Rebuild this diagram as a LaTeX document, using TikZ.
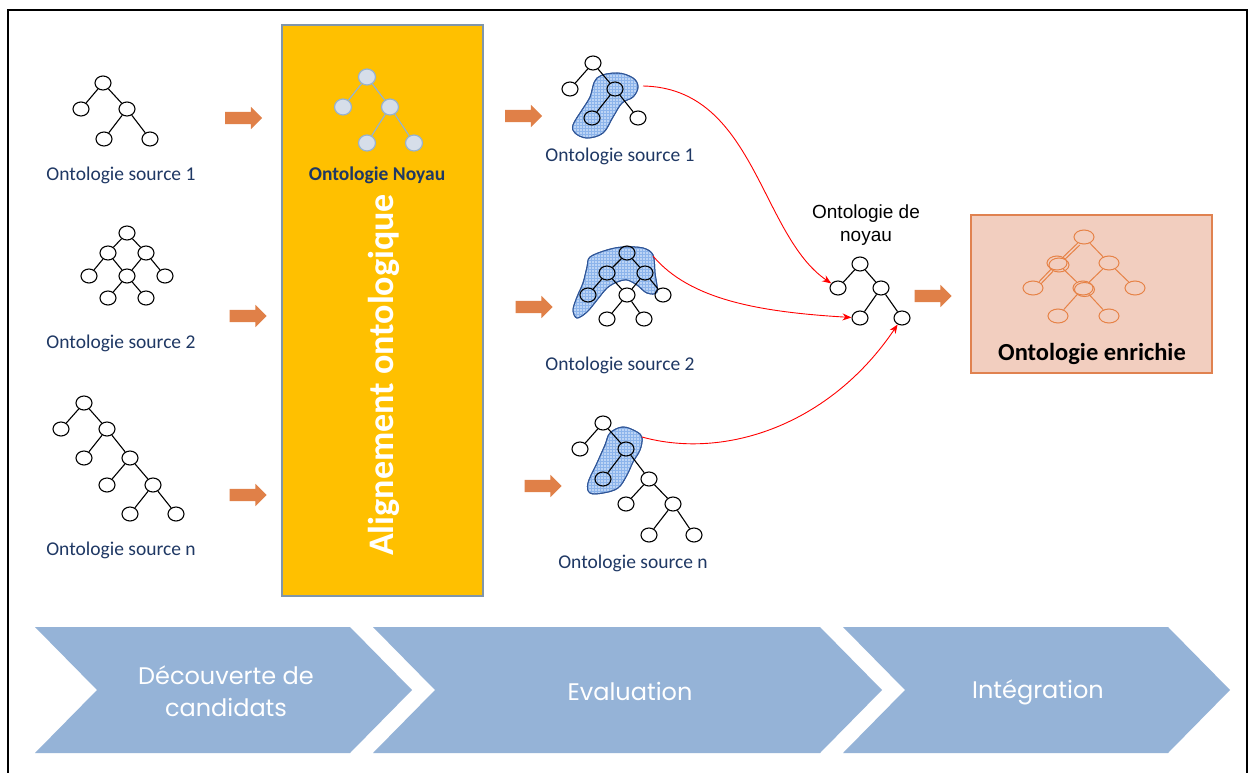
\documentclass[tikz,border=0pt]{standalone}
\usepackage{fontspec}
\setmainfont{Carlito}
\newfontfamily\arialfont{Liberation Sans}
\newfontfamily\stagefont{Poppins}
\usetikzlibrary{shapes.geometric,shapes.arrows,patterns,arrows.meta}

\definecolor{navy}{RGB}{31,56,100}
\definecolor{arrorange}{RGB}{224,128,72}
\definecolor{alignyellow}{RGB}{255,192,0}
\definecolor{alignframe}{RGB}{128,150,170}
\definecolor{kernfill}{RGB}{214,222,233}
\definecolor{kernline}{RGB}{150,178,208}
\definecolor{blobfill}{RGB}{188,212,245}
\definecolor{blobgrid}{RGB}{140,180,235}
\definecolor{blobline}{RGB}{47,85,151}
\definecolor{richfill}{RGB}{242,206,191}
\definecolor{richline}{RGB}{224,130,80}
\definecolor{richtree}{RGB}{230,130,70}
\definecolor{stageblue}{RGB}{149,179,215}

\tikzset{
  onode/.style={ellipse, draw=black, line width=1.1pt, minimum width=16pt, minimum height=14pt, inner sep=0pt},
  tedge/.style={line width=1.1pt},
  kernnode/.style={ellipse, draw=kernline, fill=kernfill, line width=1.2pt, minimum width=17pt, minimum height=16pt, inner sep=0pt},
  kernedge/.style={draw=kernline, line width=1.2pt},
  richnode/.style={ellipse, draw=richtree, line width=1pt, minimum width=20pt, minimum height=14pt, inner sep=0pt},
  richedge/.style={draw=richtree, line width=1pt},
  barrow/.style={single arrow, fill=arrorange, draw=none, minimum height=37pt, minimum width=0pt,
                 single arrow head extend=5pt, single arrow head indent=0pt, inner xsep=0pt, inner ysep=6pt},
  srclabel/.style={text=navy, font=\fontsize{19.5}{22}\selectfont, inner sep=0pt},
  blob/.style={draw=blobline, line width=1pt, fill=blobfill},
  blobgridstyle/.style={pattern=grid, pattern color=blobgrid},
  link/.style={draw=red, line width=0.9pt, -{Stealth[length=9pt,width=7pt]}},
  stage/.style={fill=stageblue, draw=none},
  stagetext/.style={text=white, font=\stagefont\fontsize{24}{32}\selectfont, align=center, inner sep=0pt},
}

\begin{document}
\begin{tikzpicture}[x=1pt,y=-1pt]
\useasboundingbox (0,0) rectangle (1248,773);
\fill[white] (0,0) rectangle (1248,773);
\draw[line width=1.5pt] (8,10) rectangle (1247,800);

% ---------- source ontologies ----------
\node[onode] (s1a) at (103,83) {};
\node[onode] (s1b) at (81,109) {};
\node[onode] (s1c) at (127,109) {};
\node[onode] (s1d) at (104,139) {};
\node[onode] (s1e) at (150,139) {};
\draw[tedge] (s1a)--(s1b) (s1a)--(s1c) (s1c)--(s1d) (s1c)--(s1e);
\node[srclabel] (l1) at (121,175) {Ontologie source 1};

\node[onode] (s2a) at (127,233) {};
\node[onode] (s2b) at (108,253) {};
\node[onode] (s2c) at (146,253) {};
\node[onode] (s2d) at (89,276) {};
\node[onode] (s2e) at (127,276) {};
\node[onode] (s2f) at (165,276) {};
\node[onode] (s2g) at (108,298) {};
\node[onode] (s2h) at (146,298) {};
\draw[tedge] (s2a)--(s2b) (s2a)--(s2c) (s2b)--(s2d) (s2b)--(s2e) (s2c)--(s2e) (s2c)--(s2f) (s2e)--(s2g) (s2e)--(s2h);
\node[srclabel] (l2) at (121,343) {Ontologie source 2};

\node[onode] (s3a) at (84,403) {};
\node[onode] (s3b) at (61,429) {};
\node[onode] (s3c) at (107,429) {};
\node[onode] (s3d) at (84,458) {};
\node[onode] (s3e) at (130,458) {};
\node[onode] (s3f) at (107,485) {};
\node[onode] (s3g) at (153,485) {};
\node[onode] (s3h) at (130,514) {};
\node[onode] (s3i) at (176,514) {};
\draw[tedge] (s3a)--(s3b) (s3a)--(s3c) (s3c)--(s3d) (s3c)--(s3e) (s3e)--(s3f) (s3e)--(s3g) (s3g)--(s3h) (s3g)--(s3i);
\node[srclabel] (l3) at (121,550) {Ontologie source n};

\node[barrow] (a1) at (240.5,118) {};
\node[barrow] (a2) at (245,316) {};
\node[barrow] (a3) at (245,495) {};

% ---------- alignment block ----------
\node[draw=alignframe, line width=2pt, fill=alignyellow, minimum width=201pt, minimum height=571pt, inner sep=0pt] (align) at (382.5,310.5) {};
\node[kernnode] (ya) at (367,77) {};
\node[kernnode] (yb) at (343,107) {};
\node[kernnode] (yc) at (390,107) {};
\node[kernnode] (yd) at (367,143) {};
\node[kernnode] (ye) at (414,143) {};
\draw[kernedge] (ya)--(yb) (ya)--(yc) (yc)--(yd) (yc)--(ye);
\node[text=navy, font=\bfseries\fontsize{19.5}{22}\selectfont, inner sep=0pt] (kl) at (377,175) {Ontologie Noyau};
\node[rotate=90, text=white, font=\bfseries\fontsize{36}{40}\selectfont, inner sep=0pt] (alt) at (384,375) {Alignement ontologique};

% ---------- evaluated source ontologies ----------
\fill[blob] plot[smooth cycle, tension=0.6] coordinates {(597,78) (617,73) (633,78) (638,87) (633,97) (622,103) (613,117) (603,133) (587,138) (575,133) (573,125) (582,110) (590,97)};
\fill[blobgridstyle] plot[smooth cycle, tension=0.6] coordinates {(597,78) (617,73) (633,78) (638,87) (633,97) (622,103) (613,117) (603,133) (587,138) (575,133) (573,125) (582,110) (590,97)};
\draw[blobline, line width=1pt] plot[smooth cycle, tension=0.6] coordinates {(597,78) (617,73) (633,78) (638,87) (633,97) (622,103) (613,117) (603,133) (587,138) (575,133) (573,125) (582,110) (590,97)};
\node[onode] (m1a) at (593,63) {};
\node[onode] (m1b) at (570,89) {};
\node[onode] (m1c) at (615,89) {};
\node[onode] (m1d) at (592,118) {};
\node[onode] (m1e) at (638,118) {};
\draw[tedge] (m1a)--(m1b) (m1a)--(m1c) (m1c)--(m1d) (m1c)--(m1e);
\node[srclabel] (ml1) at (620,156) {Ontologie source 1};

\fill[blob] plot[smooth cycle, tension=0.55] coordinates {(590,257) (607,250) (623,247) (643,248) (653,255) (655,273) (657,292) (647,293) (637,285) (627,280) (617,282) (607,288) (597,300) (587,312) (577,318) (573,310) (577,297) (583,283) (587,267)};
\fill[blobgridstyle] plot[smooth cycle, tension=0.55] coordinates {(590,257) (607,250) (623,247) (643,248) (653,255) (655,273) (657,292) (647,293) (637,285) (627,280) (617,282) (607,288) (597,300) (587,312) (577,318) (573,310) (577,297) (583,283) (587,267)};
\draw[blobline, line width=1pt] plot[smooth cycle, tension=0.55] coordinates {(590,257) (607,250) (623,247) (643,248) (653,255) (655,273) (657,292) (647,293) (637,285) (627,280) (617,282) (607,288) (597,300) (587,312) (577,318) (573,310) (577,297) (583,283) (587,267)};
\node[onode] (m2a) at (627,253) {};
\node[onode] (m2b) at (607,273) {};
\node[onode] (m2c) at (645,273) {};
\node[onode] (m2d) at (588,295) {};
\node[onode] (m2e) at (627,295) {};
\node[onode] (m2f) at (663,295) {};
\node[onode] (m2g) at (607,319) {};
\node[onode] (m2h) at (644,319) {};
\draw[tedge] (m2a)--(m2b) (m2a)--(m2c) (m2b)--(m2d) (m2b)--(m2e) (m2c)--(m2e) (m2c)--(m2f) (m2e)--(m2g) (m2e)--(m2h);
\node[srclabel] (ml2) at (620,365) {Ontologie source 2};

\fill[blob] plot[smooth cycle, tension=0.6] coordinates {(610,433) (623,427) (637,432) (642,438) (640,450) (633,462) (627,475) (618,488) (603,493) (590,493) (588,483) (597,463) (605,445)};
\fill[blobgridstyle] plot[smooth cycle, tension=0.6] coordinates {(610,433) (623,427) (637,432) (642,438) (640,450) (633,462) (627,475) (618,488) (603,493) (590,493) (588,483) (597,463) (605,445)};
\draw[blobline, line width=1pt] plot[smooth cycle, tension=0.6] coordinates {(610,433) (623,427) (637,432) (642,438) (640,450) (633,462) (627,475) (618,488) (603,493) (590,493) (588,483) (597,463) (605,445)};
\node[onode] (m3a) at (603,423) {};
\node[onode] (m3b) at (580,449) {};
\node[onode] (m3c) at (626,449) {};
\node[onode] (m3d) at (603,479) {};
\node[onode] (m3e) at (649,479) {};
\node[onode] (m3f) at (626,504) {};
\node[onode] (m3g) at (673,504) {};
\node[onode] (m3h) at (649,535) {};
\node[onode] (m3i) at (694,535) {};
\draw[tedge] (m3a)--(m3b) (m3a)--(m3c) (m3c)--(m3d) (m3c)--(m3e) (m3e)--(m3f) (m3e)--(m3g) (m3g)--(m3h) (m3g)--(m3i);
\node[srclabel] (ml3) at (633,563) {Ontologie source n};

\node[barrow] (b1) at (520.5,116) {};
\node[barrow] (b2) at (531,307) {};
\node[barrow] (b3) at (540,486) {};

% ---------- core ontology ----------
\node[font=\arialfont\fontsize{19}{23}\selectfont, align=center, inner sep=0pt] (kt) at (866,225) {Ontologie de\\noyau};
\node[onode] (ka) at (860,264) {};
\node[onode] (kb) at (838,288) {};
\node[onode] (kc) at (881,288) {};
\node[onode] (kd) at (860,318) {};
\node[onode] (ke) at (902,318) {};
\draw[tedge] (ka)--(kb) (ka)--(kc) (kc)--(kd) (kc)--(ke);

\coordinate (r1) at (643,86);
\coordinate (r2) at (653,256);
\coordinate (r3) at (642,437);
\draw[link] (r1) .. controls (755,88) and (760,235) .. (kb);
\draw[link] (r2) .. controls (690,300) and (760,312) .. (kd);
\draw[link] (r3) .. controls (725,460) and (830,425) .. (ke);

\node[barrow] (c1) at (930,296) {};

% ---------- enriched ontology ----------
\node[draw=richline, line width=1.2pt, fill=richfill, minimum width=241pt, minimum height=158pt, inner sep=0pt] (rich) at (1091.5,294) {};
\node[richnode] (ea) at (1084,237) {};
\node[richnode] (eb) at (1057,263) {};
\node[richnode] (ec) at (1109,263) {};
\node[richnode] (ed) at (1033,288) {};
\node[richnode] (ee) at (1083,288) {};
\node[richnode] (ef) at (1135,288) {};
\node[richnode] (eg) at (1058,316) {};
\node[richnode] (eh) at (1109,316) {};
\node[richnode, xshift=2pt, yshift=-2pt] (eb2) at (1057,263) {};
\node[richnode, xshift=1.5pt, yshift=-1.5pt] (ee2) at (1083,288) {};
\draw[richedge] (ea)--(eb) (ea)--(ec) (eb)--(ed) (eb)--(ee) (ec)--(ee) (ec)--(ef) (ee)--(eg) (ee)--(eh);
\draw[richedge, transform canvas={xshift=2pt,yshift=-2pt}] (ea)--(eb) (eb)--(ed);
\node[font=\bfseries\fontsize{24.5}{28}\selectfont, inner sep=0pt] (rl) at (1092,354) {Ontologie enrichie};

% ---------- process stages ----------
\fill[stage] (35,627) -- (350,627) -- (412,690) -- (350,753) -- (35,753) -- (97,690) -- cycle;
\fill[stage] (373,627) -- (820,627) -- (882,690) -- (820,753) -- (373,753) -- (435,690) -- cycle;
\fill[stage] (843,627) -- (1168,627) -- (1230,690) -- (1168,753) -- (843,753) -- (905,690) -- cycle;
\node[stagetext] (p1) at (226,691) {Découverte de\\candidats};
\node[stagetext] (p2) at (630,691) {Evaluation};
\node[stagetext] (p3) at (1038,692) {Intégration};
\end{tikzpicture}
\end{document}
